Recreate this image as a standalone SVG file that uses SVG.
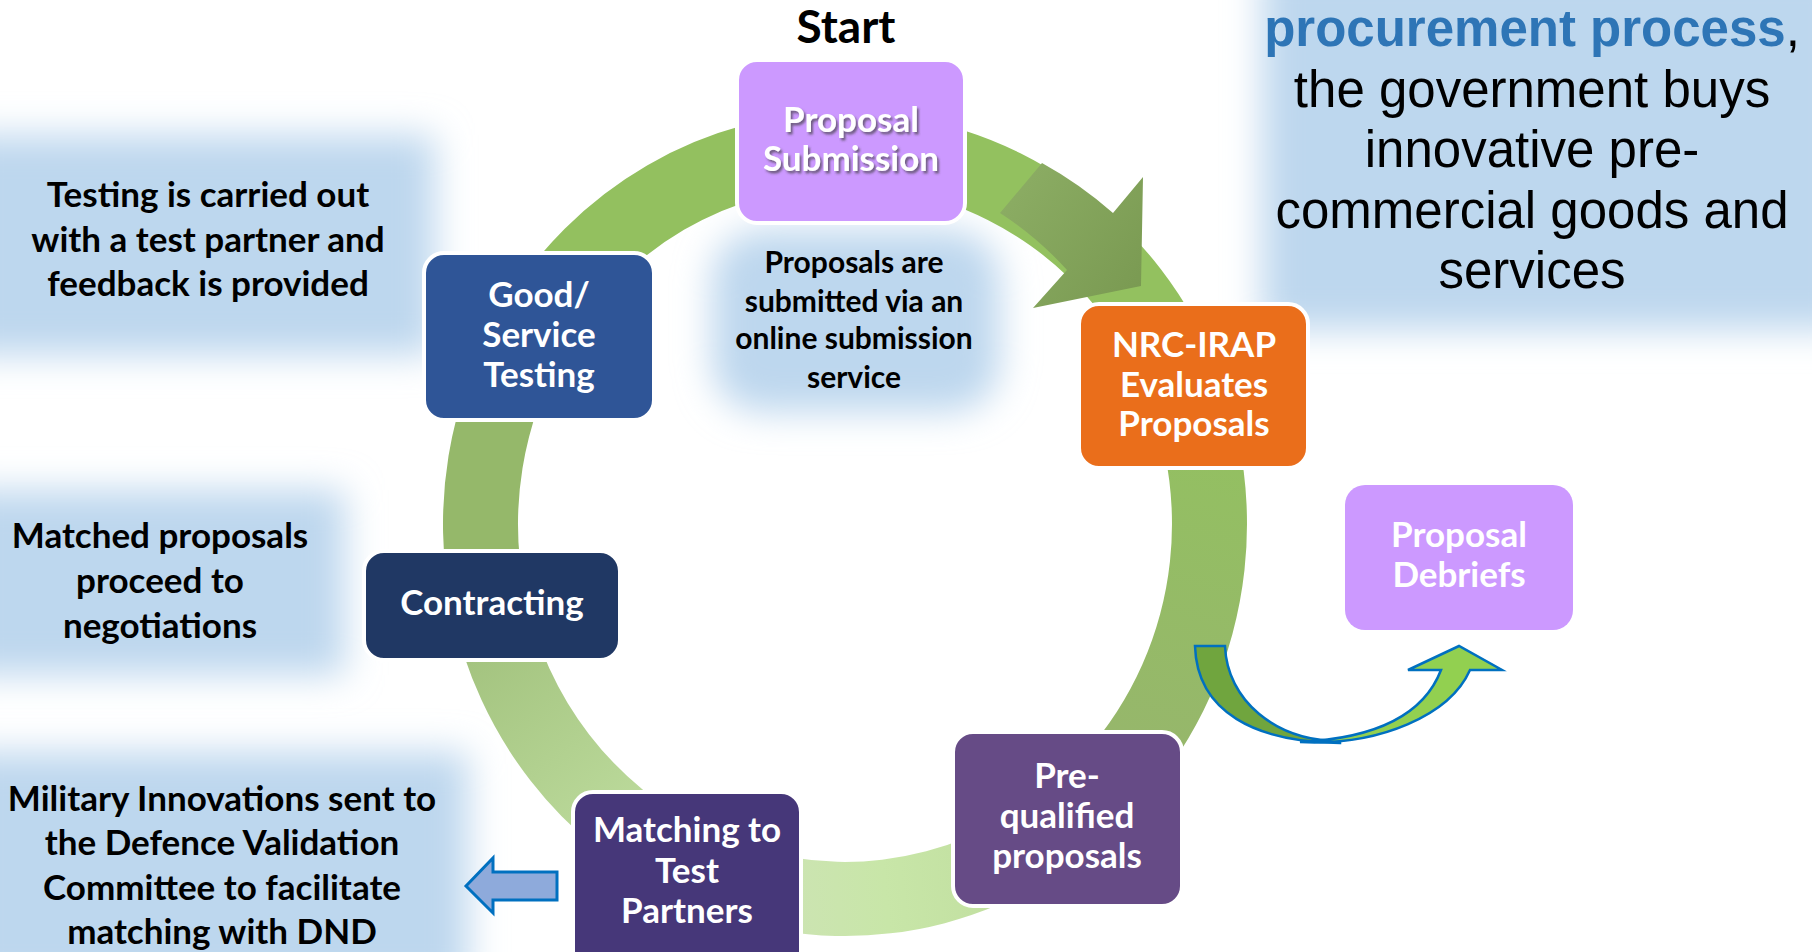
<svg xmlns="http://www.w3.org/2000/svg" width="1812" height="952" viewBox="0 0 1812 952">
<defs>
<filter id="blur" x="-40%" y="-40%" width="180%" height="180%"><feGaussianBlur stdDeviation="18"/></filter>
<filter id="tshadow" x="-10%" y="-30%" width="120%" height="160%"><feDropShadow dx="2" dy="2.5" stdDeviation="1.2" flood-color="#404040" flood-opacity="0.65"/></filter>
<linearGradient id="gB" gradientUnits="userSpaceOnUse" x1="1185" y1="390" x2="1070" y2="820"><stop offset="0" stop-color="#93c160"/><stop offset="1" stop-color="#97b46e"/></linearGradient>
<linearGradient id="gC" gradientUnits="userSpaceOnUse" x1="1070" y1="820" x2="690" y2="860"><stop offset="0" stop-color="#bddb9b"/><stop offset="0.5" stop-color="#c8e6a8"/><stop offset="1" stop-color="#d0e2bc"/></linearGradient>
<linearGradient id="gD" gradientUnits="userSpaceOnUse" x1="690" y1="860" x2="490" y2="600"><stop offset="0" stop-color="#c3e1a4"/><stop offset="1" stop-color="#a0c07b"/></linearGradient>
<linearGradient id="gArrow" gradientUnits="userSpaceOnUse" x1="1000" y1="190" x2="1140" y2="290"><stop offset="0" stop-color="#8cad64"/><stop offset="1" stop-color="#7a9a52"/></linearGradient>
</defs>
<style>
.blob{fill:#bdd7ee;filter:url(#blur)}
.box{stroke:#fff;stroke-width:4}
.lbl{font-family:Lato,"Liberation Sans",sans-serif;font-weight:700;font-size:35px;fill:#fff;text-anchor:middle}
.note{font-family:Lato,"Liberation Sans",sans-serif;font-weight:700;font-size:35px;fill:#000;text-anchor:middle}
.small{font-size:30px}
.start{font-size:46px}
.tr{font-family:"Liberation Sans",Arial,sans-serif;font-size:51px;fill:#000;text-anchor:middle}
.uarrow{stroke:#0070c0;stroke-width:2.5;stroke-linejoin:miter}
</style>

<g id="backgrounds">
<rect class="blob" x="-40" y="135" width="475" height="220"/>
<rect class="blob" x="712" y="230" width="288" height="182" rx="50"/>
<rect class="blob" x="-40" y="490" width="385" height="185"/>
<rect class="blob" x="-40" y="752" width="508" height="236"/>
<rect class="blob" x="1262" y="-40" width="590" height="370"/>
</g>

<g id="connectors">
<path fill="#93c15f" d="M845,112 A402,412 0 0 1 1220.3,376.4 L1150.3,402.9 A327,338 0 0 0 845,186 Z"/>
<path fill="url(#gB)" d="M1220.3,376.4 A402,412 0 0 1 1092.5,848.7 L1046.3,790.3 A327,338 0 0 0 1150.3,402.9 Z"/>
<path fill="url(#gC)" d="M1092.5,848.7 A402,412 0 0 1 675.1,897.4 L706.8,830.3 A327,338 0 0 0 1046.3,790.3 Z"/>
<path fill="url(#gD)" d="M675.1,897.4 A402,412 0 0 1 451.8,609.7 L525.2,594.3 A327,338 0 0 0 706.8,830.3 Z"/>
<path fill="#95b86a" d="M451.8,609.7 A402,412 0 0 1 500.4,311.8 L564.7,349.9 A327,338 0 0 0 525.2,594.3 Z"/>
<path fill="#93c05f" d="M500.4,311.8 A402,412 0 0 1 845,112 L845,186 A327,338 0 0 0 564.7,349.9 Z"/>
<path fill="url(#gArrow)" d="M1000,213 L1042,163 A402,412 0 0 1 1113,213 L1143,177 L1141,286 L1033,308 L1067,270 A335,346 0 0 0 1000,213 Z"/>
<path class="uarrow" fill="#70a53e" d="M1195,646 L1225,646 C1227,700 1275,741 1340,741 L1340,743 C1255,742 1197,712 1195,646 Z"/>
<path class="uarrow" fill="#92d050" d="M1300,742 C1380,746 1450,715 1470,670 L1502,670 L1459,646 L1408,670 L1441,670 C1425,712 1380,738 1300,742 Z"/>
<path fill="#8eaadb" stroke="#0070c0" stroke-width="3" d="M466,886 L493,858 L493,872 L557,872 L557,900 L493,900 L493,913 Z"/>
</g>

<g id="start"><text class="note start" x="846" y="43">Start</text></g>

<g id="n-submission">
<rect class="box" x="737" y="60" width="228" height="163" rx="20" fill="#cc99ff"/>
<g filter="url(#tshadow)"><text class="lbl" x="851" y="132">Proposal</text><text class="lbl" x="851" y="171">Submission</text></g>
</g>

<g id="n-evaluates">
<rect class="box" x="1079" y="304" width="229" height="164" rx="20" fill="#ea6e1b"/>
<text class="lbl" x="1194" y="357">NRC-IRAP</text><text class="lbl" x="1194" y="397">Evaluates</text><text class="lbl" x="1194" y="436">Proposals</text>
</g>

<g id="n-debriefs">
<rect x="1345" y="485" width="228" height="145" rx="20" fill="#cc99ff"/>
<text class="lbl" x="1459" y="547">Proposal</text><text class="lbl" x="1459" y="587">Debriefs</text>
</g>

<g id="n-prequalified">
<rect class="box" x="953" y="732" width="229" height="174" rx="20" fill="#664b86"/>
<text class="lbl" x="1067" y="788">Pre-</text><text class="lbl" x="1067" y="828">qualified</text><text class="lbl" x="1067" y="868">proposals</text>
</g>

<g id="n-matching">
<rect class="box" x="573" y="792" width="228" height="185" rx="20" fill="#463779"/>
<text class="lbl" x="687" y="842">Matching to</text><text class="lbl" x="687" y="883">Test</text><text class="lbl" x="687" y="923">Partners</text>
</g>

<g id="n-contracting">
<rect class="box" x="364" y="551" width="256" height="109" rx="20" fill="#203864"/>
<text class="lbl" x="492" y="615">Contracting</text>
</g>

<g id="n-testing">
<rect class="box" x="424" y="253" width="230" height="167" rx="20" fill="#2f5597"/>
<text class="lbl" x="539" y="307">Good/</text><text class="lbl" x="539" y="347">Service</text><text class="lbl" x="539" y="387">Testing</text>
</g>

<g id="notes">
<text class="note" x="208" y="207">Testing is carried out</text>
<text class="note" x="208" y="252">with a test partner and</text>
<text class="note" x="208" y="296">feedback is provided</text>
<text class="note small" x="854" y="273">Proposals are</text>
<text class="note small" x="854" y="312">submitted via an</text>
<text class="note small" x="854" y="349">online submission</text>
<text class="note small" x="854" y="388">service</text>
<text class="note" x="160" y="548">Matched proposals</text>
<text class="note" x="160" y="593">proceed to</text>
<text class="note" x="160" y="638">negotiations</text>
<text class="note" x="222" y="811">Military Innovations sent to</text>
<text class="note" x="222" y="855">the Defence Validation</text>
<text class="note" x="222" y="900">Committee to facilitate</text>
<text class="note" x="222" y="944">matching with DND</text>
</g>

<g id="procurement">
<text class="tr" x="1532" y="46"><tspan fill="#2e75b6" font-weight="700">procurement process</tspan>,</text>
<text class="tr" x="1532" y="107">the government buys</text>
<text class="tr" x="1532" y="167">innovative pre-</text>
<text class="tr" x="1532" y="228">commercial goods and</text>
<text class="tr" x="1532" y="288">services</text>
</g>
</svg>
